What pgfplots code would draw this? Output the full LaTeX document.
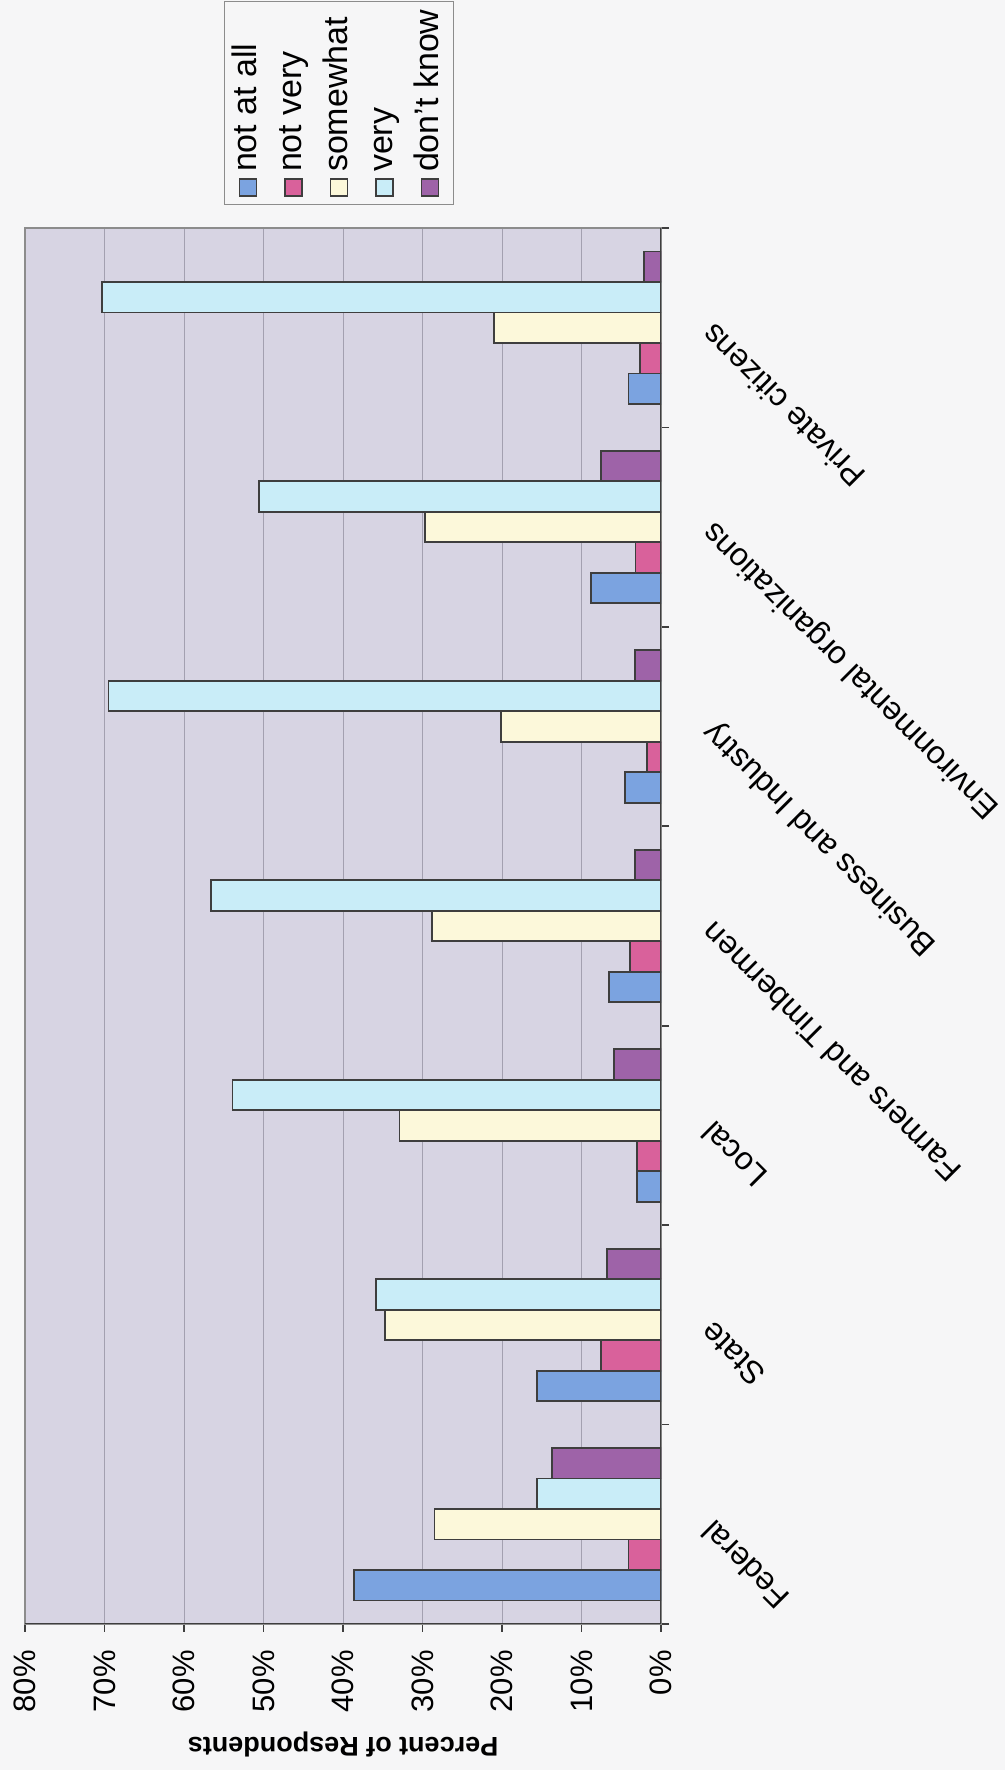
\documentclass[border=0pt]{standalone}
\usepackage{fontspec}
\setmainfont{Liberation Sans}
\usepackage{graphicx}
\usepackage{pgfplots}
\usepackage{pgfplotstable}
\pgfplotsset{compat=1.18}

\definecolor{pagebg}{HTML}{F6F6F7}
\definecolor{plotbg}{HTML}{D7D4E3}
\definecolor{gridc}{HTML}{A3A0B0}
\definecolor{edge}{HTML}{3E3E3E}
\definecolor{boxc}{HTML}{8C8C8C}
\definecolor{cNotAll}{HTML}{7BA3E0}
\definecolor{cNotVery}{HTML}{D9619B}
\definecolor{cSome}{HTML}{FCF8DA}
\definecolor{cVery}{HTML}{C9EDF8}
\definecolor{cDK}{HTML}{9E63A8}

% percent of respondents, one row per group (0 = Federal ... 6 = Private citizens)
\pgfplotstableread{
cat notatall notvery somewhat very dontknow
0   38.6     4.1     28.5     15.6 13.7
1   15.6     7.5     34.7     35.9 6.8
2   3.0      3.0     32.9     53.9 5.9
3   6.5      3.9     28.8     56.6 3.3
4   4.5      1.8     20.1     69.5 3.3
5   8.8      3.2     29.7     50.6 7.5
6   4.1      2.6     21.0     70.3 2.1
}\trust

\begin{document}
\rotatebox{90}{%
\begin{tikzpicture}
\fill[pagebg] (-73pt,-172pt) rectangle (812pt,330.5pt);
\begin{axis}[
    at={(0,0)}, anchor=south west,
    scale only axis, width=698pt, height=318pt,
    ybar=0pt, bar width=15.25pt,
    xmin=-0.5, xmax=6.5, ymin=0, ymax=80,
    xtick={-0.5,0.5,...,6.5},
    x tick label as interval,
    xticklabels={Federal,State,Local,Farmers and Timbermen,Business and Industry,Environmental organizations,Private citizens},
    ytick={0,10,...,80},
    yticklabels={0\%,10\%,20\%,30\%,40\%,50\%,60\%,70\%,80\%},
    tick align=outside, major tick length=4pt,
    xtick pos=bottom, ytick pos=left,
    tick style={draw=edge, line width=0.8pt},
    axis line style={draw=boxc, line width=0.8pt},
    axis background/.style={fill=plotbg},
    ymajorgrids, grid style={draw=gridc, line width=0.5pt},
    xticklabel style={font=\fontsize{16}{19}\selectfont, xshift=-5.25pt, yshift=-14.5pt, rotate=45, anchor=north east, inner sep=0pt},
    yticklabel style={font=\fontsize{15.5}{18}\selectfont, inner sep=0pt, xshift=-9pt},
    ylabel={Percent of Respondents},
    ylabel style={at={(axis description cs:-0.086,0.5)}, anchor=center, font=\bfseries\fontsize{13.5}{16}\selectfont},
    every axis plot/.append style={draw=edge, line width=0.9pt},
    legend image code/.code={\draw[#1, draw=edge, line width=0.8pt] (0pt,-4.25pt) rectangle (8.5pt,4.25pt);},
    legend style={at={(axis description cs:1.0165,0.687)}, anchor=north west,
        draw=boxc, fill=pagebg, font=\fontsize{17}{20}\selectfont,
        inner xsep=4pt, inner ysep=4pt, row sep=7.05pt, column sep=3pt,
        nodes={inner sep=0pt, text height=12pt, text depth=3.7pt}},
    legend cell align=left,
]
\addplot[fill=cNotAll] table[x=cat, y=notatall] {\trust};
\addplot[fill=cNotVery] table[x=cat, y=notvery] {\trust};
\addplot[fill=cSome] table[x=cat, y=somewhat] {\trust};
\addplot[fill=cVery] table[x=cat, y=very] {\trust};
\addplot[fill=cDK] table[x=cat, y=dontknow] {\trust};
\legend{not at all, not very, somewhat, very, don't know}
\draw[edge, line width=1pt] (rel axis cs:0,1) -- (rel axis cs:0,0) -- (rel axis cs:1,0);
\end{axis}
\pgfresetboundingbox
\path[use as bounding box] (-73pt,-172pt) rectangle (812pt,330.5pt);
\end{tikzpicture}}
\end{document}
